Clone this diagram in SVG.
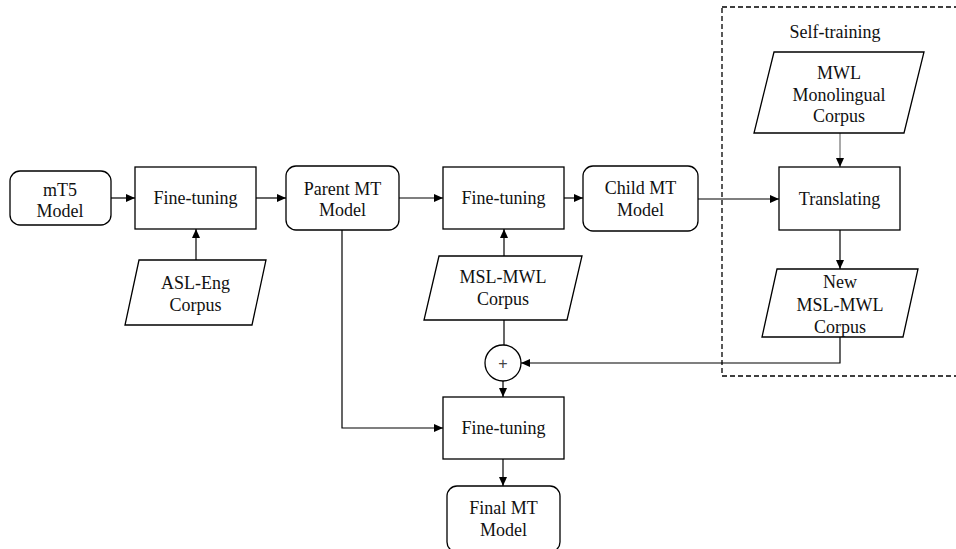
<svg xmlns="http://www.w3.org/2000/svg" width="956" height="549" viewBox="0 0 956 549">
<defs>
<style>
.box{fill:#fff;stroke:#000;stroke-width:1.3}
.t{font-family:"Liberation Serif","Times New Roman",serif;font-size:18px;fill:#111;text-anchor:middle}
.c{fill:none;stroke:#000;stroke-width:1.2}
.thin{fill:none;stroke:#555;stroke-width:1}
</style>
<marker id="ah" markerWidth="9" markerHeight="8" refX="9" refY="4" orient="auto" markerUnits="userSpaceOnUse">
<path d="M0,0 L9,4 L0,8 Z" fill="#000"/>
</marker>
</defs>
<rect width="956" height="549" fill="#fff"/>

<g id="selftraining-group">
<rect x="722" y="7" width="250" height="369" fill="none" stroke="#000" stroke-width="1.3" stroke-dasharray="5,3"/>
<text class="t" x="835" y="38">Self-training</text>
</g>

<g id="connectors">
<line class="c" x1="111" y1="198" x2="135" y2="198" marker-end="url(#ah)"/>
<line class="c" x1="256" y1="198" x2="286" y2="198" marker-end="url(#ah)"/>
<line class="c" x1="196" y1="260" x2="196" y2="229" marker-end="url(#ah)"/>
<line class="c" x1="399" y1="198" x2="443" y2="198" marker-end="url(#ah)"/>
<line class="c" x1="504" y1="256" x2="504" y2="229" marker-end="url(#ah)"/>
<line class="c" x1="564" y1="198" x2="583" y2="198" marker-end="url(#ah)"/>
<line class="c" x1="698" y1="199" x2="779" y2="199" marker-end="url(#ah)"/>
<line class="thin" x1="840" y1="133" x2="840" y2="167" marker-end="url(#ah)"/>
<line class="c" x1="840" y1="230" x2="840" y2="269" marker-end="url(#ah)"/>
<polyline class="c" points="840,337 840,363 521,363" marker-end="url(#ah)"/>
<line class="c" x1="504" y1="320" x2="504" y2="345"/>
<line class="c" x1="503" y1="381" x2="503" y2="397" marker-end="url(#ah)"/>
<polyline class="c" points="342,230 342,428 443,428" marker-end="url(#ah)"/>
<line class="c" x1="503" y1="459" x2="503" y2="486" marker-end="url(#ah)"/>
</g>

<g id="mt5">
<rect class="box" x="10" y="171" width="101" height="54" rx="10"/>
<text class="t" x="60" y="196">mT5</text>
<text class="t" x="60" y="217">Model</text>
</g>
<g id="finetune1">
<rect class="box" x="135" y="167" width="121" height="62"/>
<text class="t" x="195.5" y="204">Fine-tuning</text>
</g>
<g id="asleng">
<polygon class="box" points="139,260 266,260 252,325 125,325"/>
<text class="t" x="195.5" y="289">ASL-Eng</text>
<text class="t" x="195.5" y="311">Corpus</text>
</g>
<g id="parent">
<rect class="box" x="286" y="166" width="113" height="64" rx="10"/>
<text class="t" x="342.5" y="195">Parent MT</text>
<text class="t" x="342.5" y="216">Model</text>
</g>
<g id="finetune2">
<rect class="box" x="443" y="167" width="121" height="62"/>
<text class="t" x="503.5" y="204">Fine-tuning</text>
</g>
<g id="mslmwl">
<polygon class="box" points="439,256 582,256 567,320 424,320"/>
<text class="t" x="503" y="283">MSL-MWL</text>
<text class="t" x="503" y="305">Corpus</text>
</g>
<g id="child">
<rect class="box" x="583" y="166" width="115" height="65" rx="10"/>
<text class="t" x="640.5" y="194">Child MT</text>
<text class="t" x="640.5" y="216">Model</text>
</g>
<g id="mwlmono">
<polygon class="box" points="774,52 924,52 904,133 754,133"/>
<text class="t" x="839" y="79">MWL</text>
<text class="t" x="839" y="101">Monolingual</text>
<text class="t" x="839" y="122">Corpus</text>
</g>
<g id="translating">
<rect class="box" x="779" y="167" width="121" height="63"/>
<text class="t" x="839.5" y="205">Translating</text>
</g>
<g id="newcorpus">
<polygon class="box" points="777,269 918,269 903,337 762,337"/>
<text class="t" x="840" y="288">New</text>
<text class="t" x="840" y="311">MSL-MWL</text>
<text class="t" x="840" y="333">Corpus</text>
</g>
<g id="plus">
<circle class="box" cx="503" cy="363" r="18"/>
<text x="503" y="369" font-family="Liberation Sans, Arial, sans-serif" font-size="16" fill="#444" text-anchor="middle">+</text>
</g>
<g id="finetune3">
<rect class="box" x="443" y="397" width="121" height="62"/>
<text class="t" x="503.5" y="434">Fine-tuning</text>
</g>
<g id="final">
<rect class="box" x="447" y="486" width="113" height="66" rx="10"/>
<text class="t" x="503.5" y="514">Final MT</text>
<text class="t" x="503.5" y="536">Model</text>
</g>
</svg>
